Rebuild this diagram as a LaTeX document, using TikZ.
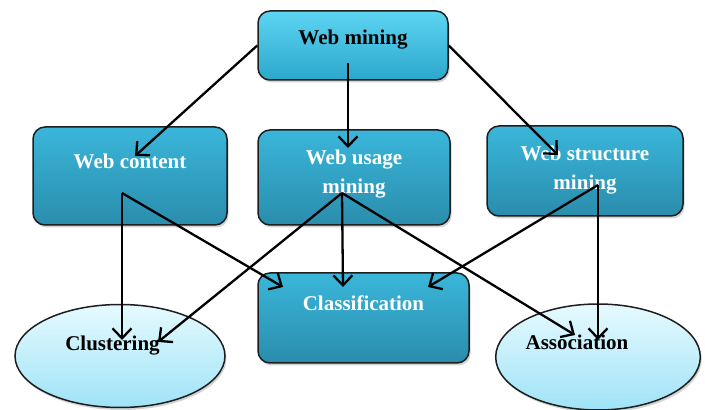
\documentclass[tikz,border=0pt]{standalone}
\usepackage{fontspec}
\setmainfont{Liberation Serif}
\usetikzlibrary{arrows.meta,shapes.geometric,shadows}
\definecolor{boxtop}{HTML}{3AB6DA}
\definecolor{boxbot}{HTML}{2A8DAD}
\definecolor{headtop}{HTML}{5DD4F2}
\definecolor{headbot}{HTML}{2CA8CC}
\definecolor{ovtop}{HTML}{E6FAFF}
\definecolor{ovbot}{HTML}{9FE3F7}
\definecolor{edge}{HTML}{1E1E1E}

\begin{document}
\begin{tikzpicture}[x=1pt,y=1pt,
  box/.style={draw=edge,line width=1.5pt,rounded corners=12pt,top color=boxtop,
              bottom color=boxbot,text=white,align=center,text height=15pt,
              font=\bfseries\fontsize{21}{29}\selectfont,
              drop shadow={opacity=0.35,shadow xshift=1.5pt,shadow yshift=-2.5pt}},
  oval/.style={ellipse,draw=edge,line width=1.5pt,top color=ovtop,bottom color=ovbot,
              inner sep=0pt,text height=15pt,font=\bfseries\fontsize{21}{29}\selectfont,
              drop shadow={opacity=0.35,shadow xshift=1.5pt,shadow yshift=-2.5pt}},
  link/.style={-{Straight Barb[length=10pt,width=19pt]},line width=2.3pt}]
  \useasboundingbox (0,0) rectangle (705,410);
  \node[box,top color=headtop,bottom color=headbot,text=black,
        minimum width=190pt,minimum height=69pt,text depth=16pt] (mining) at (353,364.5) {Web mining};
  \node[box,minimum width=194pt,minimum height=98pt,text depth=29pt] (content) at (130,234) {Web content};
  \node[box,minimum width=192pt,minimum height=95pt,text height=44pt,text depth=11pt] (usage) at (354,232.5) {Web usage\\mining};
  \node[box,minimum width=196pt,minimum height=90pt,text height=48pt,text depth=10pt] (structure) at (585,239) {Web structure\\mining};
  \node[box,minimum width=211pt,minimum height=90pt,text depth=29pt] (classif) at (363.5,92) {Classification};
  \node[oval,minimum width=210pt,minimum height=103pt,text depth=25pt] (cluster) at (120,54) {Clustering\hspace*{15pt}};
  \node[oval,minimum width=204pt,minimum height=106pt,text depth=29pt] (assoc) at (598,53) {Association\hspace*{42pt}};

  \coordinate (mining-out) at ([xshift=-5pt,yshift=-17.5pt]mining.center);
  \coordinate (content-out) at ([xshift=-8pt,yshift=-17pt]content.center);
  \coordinate (usage-out) at ([xshift=-12pt,yshift=-15.5pt]usage.center);
  \coordinate (structure-out) at ([xshift=13pt,yshift=-14pt]structure.center);

  \draw[link] (mining.west) -- ([xshift=5pt,yshift=20pt]content.center);
  \draw[link] (mining-out) -- ([xshift=-6pt,yshift=29.5pt]usage.center);
  \draw[link] (mining.east) -- ([xshift=-27pt,yshift=16pt]structure.center);
  \draw[link] (content-out) -- ([xshift=2pt,yshift=16pt]cluster.center);
  \draw[link] (content-out) -- ([xshift=-80.5pt,yshift=31pt]classif.center);
  \draw[link] (usage-out) -- ([xshift=38pt,yshift=14pt]cluster.center);
  \draw[link] (usage-out) -- ([xshift=-20.5pt,yshift=31pt]classif.center);
  \draw[link] (usage-out) -- ([xshift=-23pt,yshift=22pt]assoc.center);
  \draw[link] (structure-out) -- ([xshift=64.5pt,yshift=31pt]classif.center);
  \draw[link] (structure-out) -- ([yshift=17pt]assoc.center);
\end{tikzpicture}
\end{document}
